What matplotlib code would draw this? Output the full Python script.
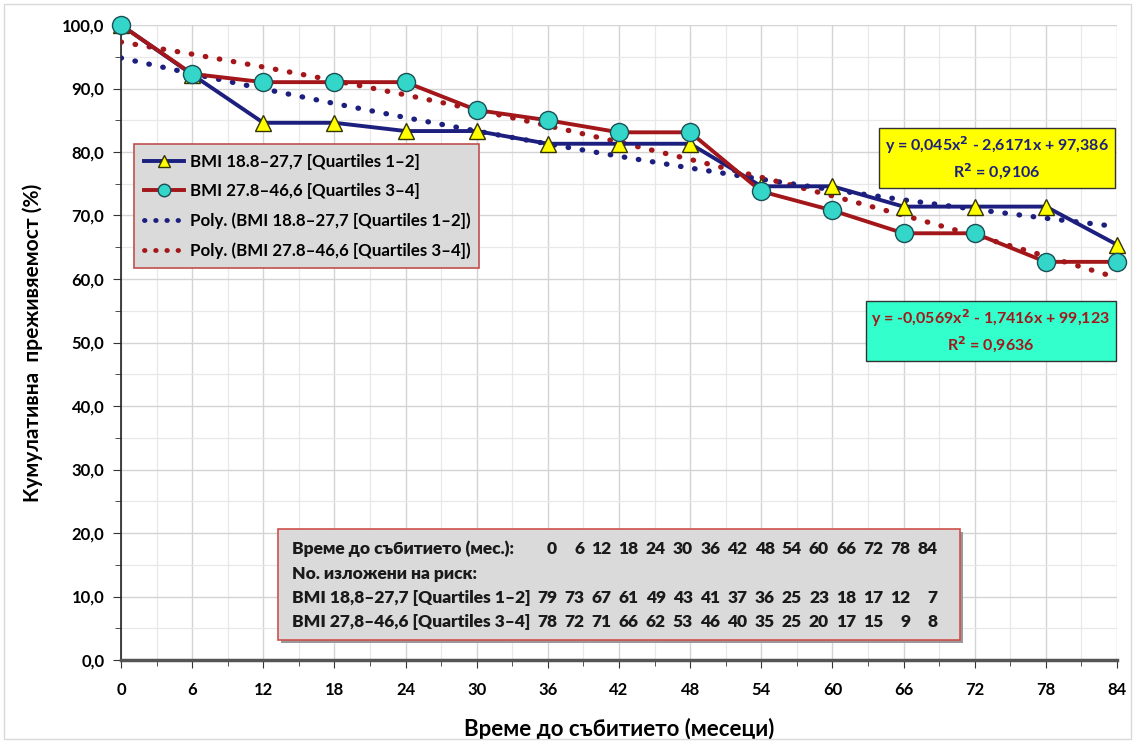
import numpy as np
import matplotlib.pyplot as plt
from matplotlib.lines import Line2D
from matplotlib.patches import Rectangle

plt.rcParams['font.family'] = ['Lato', 'DejaVu Sans']
plt.rcParams['font.weight'] = 'bold'

# data
months = [0, 6, 12, 18, 24, 30, 36, 42, 48, 54, 60, 66, 72, 78, 84]
surv_q12 = [100.0, 92.2, 84.6, 84.6, 83.3, 83.3, 81.3, 81.3, 81.3, 74.6, 74.6, 71.4, 71.4, 71.4, 65.4]
surv_q34 = [100.0, 92.3, 91.0, 91.0, 91.0, 86.6, 85.0, 83.1, 83.1, 73.8, 70.8, 67.2, 67.2, 62.7, 62.7]

# Excel trendline coefficients (x = point index 1..15)
poly_q12 = [0.045, -2.6171, 97.386]
poly_q34 = [-0.0569, -1.7416, 99.123]
r2_q12 = "0,9106"
r2_q34 = "0,9636"

label_q12 = "BMI 18.8\u201327,7 [Quartiles 1\u20132]"
label_q34 = "BMI 27.8\u201346,6 [Quartiles 3\u20134]"

risk_times = [0, 6, 12, 18, 24, 30, 36, 42, 48, 54, 60, 66, 72, 78, 84]
risk_q12 = [79, 73, 67, 61, 49, 43, 41, 37, 36, 25, 23, 18, 17, 12, 7]
risk_q34 = [78, 72, 71, 66, 62, 53, 46, 40, 35, 25, 20, 17, 15, 9, 8]

navy = '#1c1f7e'
darkred = '#a3161a'

W, H = 1135, 743
fig = plt.figure(figsize=(W / 100, H / 100), dpi=100)
ax = fig.add_axes([121 / W, 1 - 660 / H, 996 / W, 635 / H])

idx = np.arange(1, len(months) + 1)
ax.plot(months, np.polyval(poly_q12, idx), ls=(0, (0.1, 2.6)), lw=3.8,
        color=navy, dash_capstyle='round', zorder=3)
ax.plot(months, np.polyval(poly_q34, idx), ls=(0, (0.1, 2.6)), lw=3.8,
        color=darkred, dash_capstyle='round', zorder=3)

ax.plot(months, surv_q12, color=navy, lw=2.8, marker='^', ms=12,
        mfc='#ffff00', mec='#333300', mew=1.0, zorder=4, clip_on=False)
ax.plot(months, surv_q34, color=darkred, lw=2.8, marker='o', ms=13,
        mfc='#33d6c8', mec='#1b4f55', mew=1.0, zorder=5, clip_on=False)

ax.set_xlim(0, 84)
ax.set_ylim(0, 100)
ax.set_xticks(months)
ax.set_xticks(np.arange(0, 85, 3), minor=True)
ax.set_yticks(np.arange(0, 101, 10))
ax.set_yticks(np.arange(0, 101, 5), minor=True)
ax.set_yticklabels([f"{v:.1f}".replace('.', ',') for v in np.arange(0, 101, 10)])
ax.grid(which='major', color='#d4d4d4', lw=1.0)
ax.grid(which='minor', color='#e8e8e8', lw=0.9)
ax.set_axisbelow(True)

for s in ['top', 'right']:
    ax.spines[s].set_visible(False)
ax.spines['left'].set_color('#222222')
ax.spines['left'].set_linewidth(1.2)
ax.spines['bottom'].set_color('#555555')
ax.spines['bottom'].set_linewidth(2.5)
ax.tick_params(axis='both', which='major', labelsize=12, length=6, color='#333333', pad=6)
ax.tick_params(axis='both', which='minor', length=4, color='#333333')
ax.tick_params(axis='x', pad=10)

ax.set_xlabel("Време до събитието (месеци)", fontsize=16, fontweight='bold', labelpad=14)
ax.set_ylabel("Кумулативна  преживяемост (%)", fontsize=15, fontweight='bold', labelpad=14)

handles = [
    Line2D([], [], color=navy, lw=2.8, marker='^', ms=8, mfc='#ffff00', mec='#333300'),
    Line2D([], [], color=darkred, lw=2.8, marker='o', ms=9, mfc='#33d6c8', mec='#1b4f55'),
    Line2D([], [], color=navy, lw=3.5, ls=(0, (0.1, 2.2)), dash_capstyle='round'),
    Line2D([], [], color=darkred, lw=3.5, ls=(0, (0.1, 2.2)), dash_capstyle='round'),
]
labels = [label_q12, label_q34,
          f"Poly. ({label_q12})", f"Poly. ({label_q34})"]
leg = fig.legend(handles, labels, loc='upper left',
                 bbox_to_anchor=(126 / W, 1 - 136 / H), fontsize=12.2,
                 fancybox=False, framealpha=1, facecolor='#dadada',
                 edgecolor='#c0504d', handlelength=2.4, labelspacing=0.78,
                 borderpad=0.55, handletextpad=0.3)
leg.get_frame().set_linewidth(1.2)

ax.text(997 / W, 1 - 158 / H, f"y = 0,045x$^2$ - 2,6171x + 97,386\nR$^2$ = {r2_q12}",
        transform=fig.transFigure, ha='center', va='center', fontsize=11.5,
        fontweight='bold', color=navy, linespacing=1.4,
        bbox=dict(boxstyle='square,pad=0.35', fc='#ffff00', ec='#333333', lw=1))
ax.text(991 / W, 1 - 331 / H, f"y = -0,0569x$^2$ - 1,7416x + 99,123\nR$^2$ = {r2_q34}",
        transform=fig.transFigure, ha='center', va='center', fontsize=11.5,
        fontweight='bold', color=darkred, linespacing=1.4,
        bbox=dict(boxstyle='square,pad=0.35', fc='#33ffcc', ec='#333333', lw=1))

# risk table box
fig.patches.append(Rectangle((281 / W, 1 - 643 / H), 682 / W, 111 / H,
                             transform=fig.transFigure, fc='#999999', ec='none', zorder=5))
fig.patches.append(Rectangle((278 / W, 1 - 640 / H), 682 / W, 111 / H,
                             transform=fig.transFigure, fc='#dadada', ec='#d0504d',
                             lw=1.2, zorder=6))
row_y = [549, 574, 598, 622]
row_txt = ["Време до събитието (мес.):", "No. изложени на риск:",
           "BMI 18,8\u201327,7 [Quartiles 1\u20132]", "BMI 27,8\u201346,6 [Quartiles 3\u20134]"]
for yy, tx in zip(row_y, row_txt):
    fig.text(292 / W, 1 - yy / H, tx, ha='left', va='center', fontsize=12.5,
             fontweight='heavy', color='#1a1a1a', zorder=7)
for i in range(len(risk_times)):
    xx = (557 + i * 27.2) / W
    for yy, vals in [(row_y[0], risk_times), (row_y[2], risk_q12), (row_y[3], risk_q34)]:
        fig.text(xx, 1 - yy / H, str(vals[i]), ha='right', va='center', fontsize=12.5,
                 fontweight='heavy', color='#1a1a1a', zorder=7)

fig.patches.append(Rectangle((4 / W, 4 / H), 1 - 8 / W, 1 - 8 / H, transform=fig.transFigure,
                             fill=False, ec='#d9d9d9', lw=1))

fig.savefig('out.png', dpi=100)
